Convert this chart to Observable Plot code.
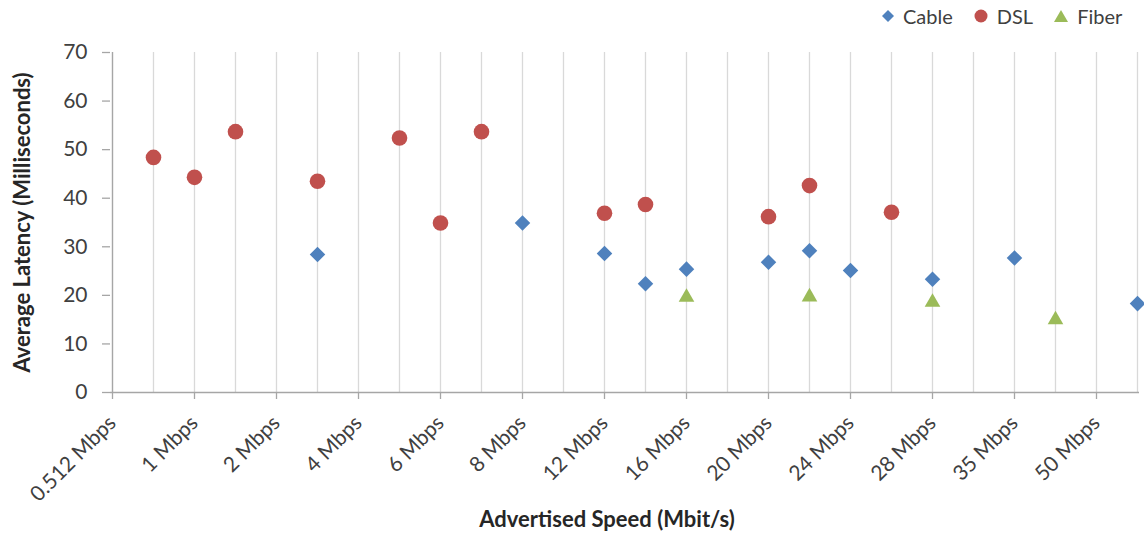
<!DOCTYPE html>
<html>
<head>
<meta charset="utf-8">
<script src="https://cdn.jsdelivr.net/npm/d3@7"></script>
<script src="https://cdn.jsdelivr.net/npm/@observablehq/plot@0.6"></script>
<style>
  html, body { margin: 0; padding: 0; background: #fff; overflow: hidden; }
  #wrap { position: relative; width: 1144px; height: 536px; font-family: Lato, "Open Sans", sans-serif; }
  #legend { position: absolute; top: 4px; left: 882px; display: flex; gap: 0; font-size: 20px; color: #404040; align-items: center; }
  #legend > span { display: inline-flex; align-items: center; gap: 9px; margin-right: 21px; }
</style>
</head>
<body>
<div id="wrap"><div id="legend"></div></div>
<script>
// Categories on the x axis (advertised speed); only every other is labelled
const categories = ["0.512 Mbps","0.768 Mbps","1 Mbps","1.5 Mbps","2 Mbps","3 Mbps","4 Mbps","5 Mbps","6 Mbps","7 Mbps","8 Mbps","10 Mbps","12 Mbps","15 Mbps","16 Mbps","18 Mbps","20 Mbps","22 Mbps","24 Mbps","25 Mbps","28 Mbps","30 Mbps","35 Mbps","40 Mbps","50 Mbps","60 Mbps"];
const tickLabels = ["0.512 Mbps","1 Mbps","2 Mbps","4 Mbps","6 Mbps","8 Mbps","12 Mbps","16 Mbps","20 Mbps","24 Mbps","28 Mbps","35 Mbps","50 Mbps"];
const yTicks = [0,10,20,30,40,50,60,70];

const cableSpeeds  = ["3 Mbps","8 Mbps","12 Mbps","15 Mbps","16 Mbps","20 Mbps","22 Mbps","24 Mbps","28 Mbps","35 Mbps","60 Mbps"];
const cableLatency = [28.4, 34.9, 28.6, 22.4, 25.4, 26.8, 29.2, 25.1, 23.3, 27.7, 18.3];

const dslSpeeds  = ["0.768 Mbps","1 Mbps","1.5 Mbps","3 Mbps","5 Mbps","6 Mbps","7 Mbps","12 Mbps","15 Mbps","20 Mbps","22 Mbps","25 Mbps"];
const dslLatency = [48.4, 44.3, 53.7, 43.5, 52.4, 34.9, 53.7, 36.9, 38.7, 36.2, 42.6, 37.1];

const fiberSpeeds  = ["16 Mbps","22 Mbps","28 Mbps","40 Mbps"];
const fiberLatency = [20.0, 20.1, 19.0, 15.4];

const seriesNames = ["Cable","DSL","Fiber"];
const seriesColors = ["#4F81BD","#C0504D","#9BBB59"];

const cable = cableSpeeds.map((s,i) => ({speed: s, latency: cableLatency[i]}));
const dsl = dslSpeeds.map((s,i) => ({speed: s, latency: dslLatency[i]}));
const fiber = fiberSpeeds.map((s,i) => ({speed: s, latency: fiberLatency[i]}));

const font = "Lato, 'Open Sans', sans-serif";

const chart = Plot.plot({
  width: 1144,
  height: 536,
  marginLeft: 110,
  marginRight: 5,
  marginTop: 52,
  marginBottom: 144,
  style: {fontFamily: font, background: "#fff", overflow: "visible"},
  x: {type: "point", domain: categories, padding: 0},
  y: {domain: [0, 70]},
  marks: [
    Plot.ruleX(categories, {stroke: "#d9d9d9", strokeWidth: 1.3}),
    Plot.ruleX([categories[0]], {stroke: "#a6a6a6", strokeWidth: 1.3}),
    Plot.ruleY([0], {stroke: "#a6a6a6", strokeWidth: 1.3}),
    Plot.axisY(yTicks, {
      tickSize: 8, tickPadding: 15, stroke: "#a6a6a6", strokeWidth: 1.3, fill: "#404040", fontSize: 21,
      label: "Average Latency (Milliseconds)", labelAnchor: "center", labelOffset: 96, labelArrow: "none"
    }),
    Plot.axisX(tickLabels, {
      tickSize: 7, tickPadding: 20, tickRotate: -45, stroke: "#a6a6a6", strokeWidth: 1.3, fill: "#404040", fontSize: 21,
      label: null
    }),
    Plot.dot(cable, {x: "speed", y: "latency", symbol: "diamond2", r: 7, fill: seriesColors[0], stroke: "none"}),
    Plot.dot(dsl, {x: "speed", y: "latency", symbol: "circle", r: 7.8, fill: seriesColors[1], stroke: "none"}),
    Plot.dot(fiber, {x: "speed", y: "latency", symbol: "triangle", r: 5.8, fill: seriesColors[2], stroke: "none", dy: 2})
  ]
});
document.getElementById("wrap").prepend(chart);

const svg = d3.select(chart);
// x axis title as real text in the svg
svg.append("text")
  .attr("x", 607).attr("y", 527)
  .attr("text-anchor", "middle")
  .attr("font-family", font).attr("font-weight", "bold").attr("font-size", 22).attr("fill", "#262626")
  .text("Advertised Speed (Mbit/s)");
// bold y label
svg.selectAll("g[aria-label='y-axis label']")
  .attr("font-weight", "bold").attr("fill", "#262626").attr("font-size", 22);

// legend
const shapes = {
  Cable: '<svg width="12" height="12"><path d="M6 0 L12 6 L6 12 L0 6Z" fill="#4F81BD"/></svg>',
  DSL: '<svg width="14" height="14"><circle cx="7" cy="7" r="6.5" fill="#C0504D"/></svg>',
  Fiber: '<svg width="14" height="12"><path d="M7 0 L14 12 L0 12Z" fill="#9BBB59"/></svg>'
};
const legend = document.getElementById("legend");
seriesNames.forEach(n => {
  const s = document.createElement("span");
  s.innerHTML = shapes[n] + "<span>" + n + "</span>";
  legend.appendChild(s);
});
</script>
</body>
</html>
